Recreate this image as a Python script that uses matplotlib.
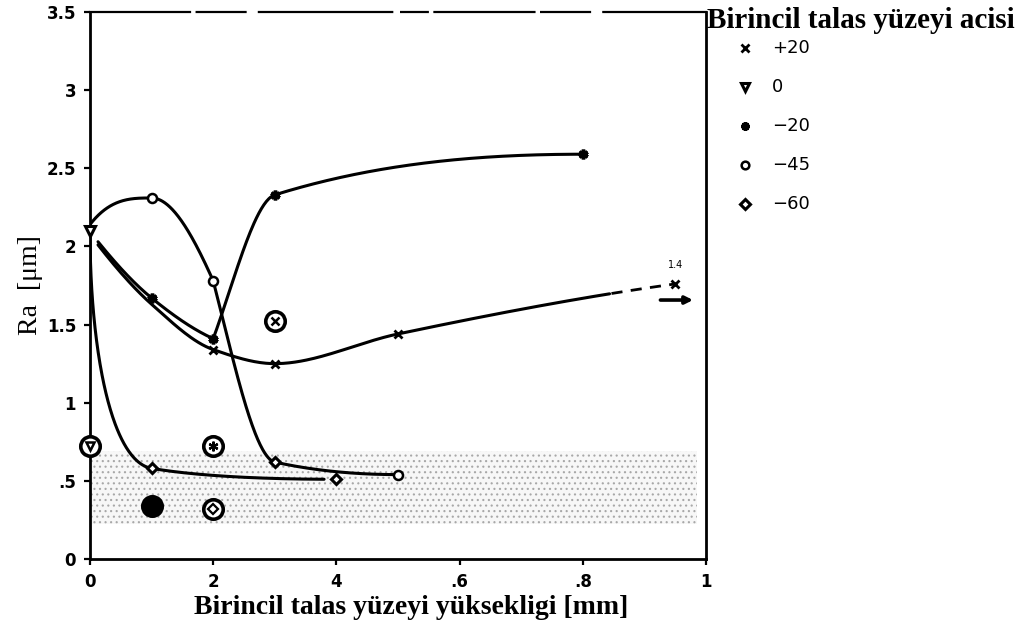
import numpy as np
import matplotlib
matplotlib.use("Agg")
import matplotlib.pyplot as plt
from matplotlib.lines import Line2D

# ---------------------------------------------------------------
# Measured surface roughness Ra [um] vs. primary rake-face land
# height [mm], one series per primary rake-face angle
# ---------------------------------------------------------------
plus20_x = [0.2, 0.3, 0.5, 0.95]
plus20_y = [1.34, 1.25, 1.44, 1.76]

zero_x = [0.0]
zero_y = [2.10]

minus20_x = [0.1, 0.2, 0.3, 0.8]
minus20_y = [1.67, 1.41, 2.33, 2.59]

minus45_x = [0.1, 0.2, 0.5]
minus45_y = [2.31, 1.78, 0.54]

minus60_x = [0.1, 0.3, 0.4]
minus60_y = [0.58, 0.62, 0.51]

# Trend-curve knots (each curve passes through these values)
trend_plus20_x = [0.013, 0.1, 0.2, 0.3, 0.5, 0.95]
trend_plus20_y = [2.01, 1.63, 1.34, 1.25, 1.44, 1.76]
trend_minus20a_x = [0.013, 0.1, 0.2]
trend_minus20a_y = [2.03, 1.67, 1.41]
trend_minus20b_x = [0.2, 0.3, 0.8]
trend_minus20b_y = [1.41, 2.33, 2.59]
trend_minus45a_x = [0.0, 0.1, 0.2]
trend_minus45a_y = [2.14, 2.31, 1.78]
trend_minus45b_x = [0.2, 0.3, 0.5]
trend_minus45b_y = [1.78, 0.62, 0.54]
trend_minus60_x = [0.0, 0.1, 0.4]
trend_minus60_y = [2.10, 0.58, 0.51]

# Circled comparison points
ring_x = [0.0, 0.1, 0.2, 0.2, 0.3]
ring_y = [0.72, 0.34, 0.72, 0.32, 1.52]

# Shaded target band of Ra
band_low, band_high = 0.225, 0.69

# Off-scale point annotation (+20 series continues at 1.4 mm)
offscale_label = "1.4"

x_ticks = [0, 0.2, 0.4, 0.6, 0.8, 1.0]
x_ticklabels = ["0", "2", "4", ".6", ".8", "1"]
y_ticks = [0, 0.5, 1, 1.5, 2, 2.5, 3, 3.5]
y_ticklabels = ["0", ".5", "1", "1.5", "2", "2.5", "3", "3.5"]

legend_title = "Birincil talas yüzeyi acisi"
legend_labels = ["+20", "0", "\u221220", "\u221245", "\u221260"]
x_label = "Birincil talas yüzeyi yüksekligi [mm]"
y_label = "Ra  [\u03bcm]"


def pchip(xk, yk, xs):
    """Shape-preserving piecewise cubic Hermite interpolation."""
    xk = np.asarray(xk, float)
    yk = np.asarray(yk, float)
    h = np.diff(xk)
    d = np.diff(yk) / h
    n = len(xk)
    m = np.zeros(n)
    if n == 2:
        m[:] = d[0]
    else:
        for i in range(1, n - 1):
            if d[i - 1] * d[i] > 0:
                w1 = 2 * h[i] + h[i - 1]
                w2 = h[i] + 2 * h[i - 1]
                m[i] = (w1 + w2) / (w1 / d[i - 1] + w2 / d[i])

        def end_slope(h0, h1, d0, d1):
            s = ((2 * h0 + h1) * d0 - h0 * d1) / (h0 + h1)
            if np.sign(s) != np.sign(d0):
                s = 0.0
            elif np.sign(d0) != np.sign(d1) and abs(s) > abs(3 * d0):
                s = 3 * d0
            return s

        m[0] = end_slope(h[0], h[1], d[0], d[1])
        m[-1] = end_slope(h[-1], h[-2], d[-1], d[-2])
    idx = np.clip(np.searchsorted(xk, xs) - 1, 0, n - 2)
    t = (xs - xk[idx]) / h[idx]
    h00 = 2 * t**3 - 3 * t**2 + 1
    h10 = t**3 - 2 * t**2 + t
    h01 = -2 * t**3 + 3 * t**2
    h11 = t**3 - t**2
    return (h00 * yk[idx] + h10 * h[idx] * m[idx]
            + h01 * yk[idx + 1] + h11 * h[idx] * m[idx + 1])


def trend(xk, yk, x_end=None, sqrt_warp=False, npts=300):
    xk = np.asarray(xk, float)
    x_end = xk[-1] if x_end is None else x_end
    if sqrt_warp:
        uk = np.sqrt(xk)
        us = np.linspace(uk[0], np.sqrt(x_end), npts)
        return us**2, pchip(uk, yk, us)
    xs = np.linspace(xk[0], x_end, npts)
    return xs, pchip(xk, yk, xs)


fig = plt.figure(figsize=(10.24, 6.37), dpi=100)
ax = fig.add_axes([90 / 1024, 1 - 559 / 637, 616 / 1024, 547 / 637])

line_kw = dict(color="black", lw=2.2, solid_capstyle="round", zorder=3)

# Target band (stippled)
plt.rcParams["hatch.linewidth"] = 0.8
ax.fill_between([0.0, 0.985], band_low, band_high, facecolor="#f7f7f7",
                edgecolor="#a8a8a8", hatch="...", linewidth=0, zorder=1)

# Trend curves
xs, ys = trend(trend_plus20_x, trend_plus20_y)
solid = xs <= 0.845
ax.plot(xs[solid], ys[solid], **line_kw)
ax.plot(xs[~solid], ys[~solid], color="black", lw=2.0,
        dashes=(4, 3), zorder=3)
ax.plot(*trend(trend_minus20a_x, trend_minus20a_y), **line_kw)
ax.plot(*trend(trend_minus20b_x, trend_minus20b_y), **line_kw)
ax.plot(*trend(trend_minus45a_x, trend_minus45a_y), **line_kw)
ax.plot(*trend(trend_minus45b_x, trend_minus45b_y), **line_kw)
ax.plot(*trend(trend_minus60_x, trend_minus60_y, x_end=0.38,
               sqrt_warp=True), **line_kw)

# Series markers
styles = [
    dict(marker="x", ms=6, mew=2.0, mfc="black", mec="black"),
    dict(marker="v", ms=7, mew=2.2, mfc="white", mec="black"),
    dict(marker=(6, 2, 0), ms=7, mew=2.6, mfc="black", mec="black"),
    dict(marker="o", ms=6.5, mew=1.8, mfc="white", mec="black"),
    dict(marker="D", ms=5.5, mew=2.2, mfc="white", mec="black"),
]
series = [(plus20_x, plus20_y), (zero_x, zero_y), (minus20_x, minus20_y),
          (minus45_x, minus45_y), (minus60_x, minus60_y)]
for (sx, sy), st in zip(series, styles):
    ax.plot(sx, sy, ls="none", zorder=5, clip_on=False, **st)

# Circled comparison points with inner symbols
ring_inner = [
    dict(marker="v", ms=6, mew=1.8, mfc="white", mec="black"),
    None,
    dict(marker=(6, 2, 0), ms=7, mew=1.6, mfc="black", mec="black"),
    dict(marker="D", ms=5, mew=1.6, mfc="white", mec="black"),
    dict(marker="x", ms=6, mew=1.8, mfc="black", mec="black"),
]
for rx, ry, inner in zip(ring_x, ring_y, ring_inner):
    ax.plot([rx], [ry], ls="none", marker="o", ms=14, mew=2.6,
            mfc="black" if inner is None else "white", mec="black",
            zorder=5, clip_on=False)
    if inner is not None:
        ax.plot([rx], [ry], ls="none", zorder=6, clip_on=False, **inner)

# Off-scale note and arrow
ax.text(plus20_x[-1], plus20_y[-1] + 0.09, offscale_label, fontsize=7,
        ha="center", va="bottom", family="DejaVu Sans")
ax.annotate("", xy=(0.979, 1.657), xytext=(0.926, 1.657),
            arrowprops=dict(arrowstyle="-|>", lw=2.6, color="black",
                            mutation_scale=11, shrinkA=0, shrinkB=0),
            zorder=6)

# Axes, ticks and spines
ax.set_xlim(0, 1)
ax.set_ylim(0, 3.5)
ax.set_xticks(x_ticks)
ax.set_xticklabels(x_ticklabels)
ax.set_yticks(y_ticks)
ax.set_yticklabels(y_ticklabels)
ax.tick_params(direction="out", length=4, width=1.6, labelsize=12,
               pad=6)
for lab in ax.get_xticklabels() + ax.get_yticklabels():
    lab.set_family("DejaVu Sans")
    lab.set_weight("bold")
for side in ("left", "bottom", "right"):
    ax.spines[side].set_linewidth(2.0)
ax.spines["top"].set_linewidth(1.6)
ax.spines["top"].set_linestyle((0, (45, 3, 22, 6, 60, 4, 12, 3)))

ax.set_xlabel(x_label, family="Liberation Serif", weight="bold",
              fontsize=20)
ax.xaxis.set_label_coords((411 - 90) / 616, -0.066)
ax.set_ylabel(y_label, family="Liberation Serif", fontsize=20)
ax.yaxis.set_label_coords((43 - 90) / 616, 0.5)

# Legend
fig.text(707 / 1024, 1 - 20 / 637, legend_title, family="Liberation Serif",
         weight="bold", fontsize=21, ha="left", va="center")
for i, (lab, st) in enumerate(zip(legend_labels, styles)):
    yy = 1 - (48 + 39 * i) / 637
    fig.add_artist(Line2D([745 / 1024], [yy], transform=fig.transFigure,
                          ls="none", **{**st, "ms": st["ms"] * 0.85}))
    fig.text(772 / 1024, yy, lab, family="DejaVu Sans", fontsize=13,
             ha="left", va="center")

fig.savefig("out.png", dpi=100)
